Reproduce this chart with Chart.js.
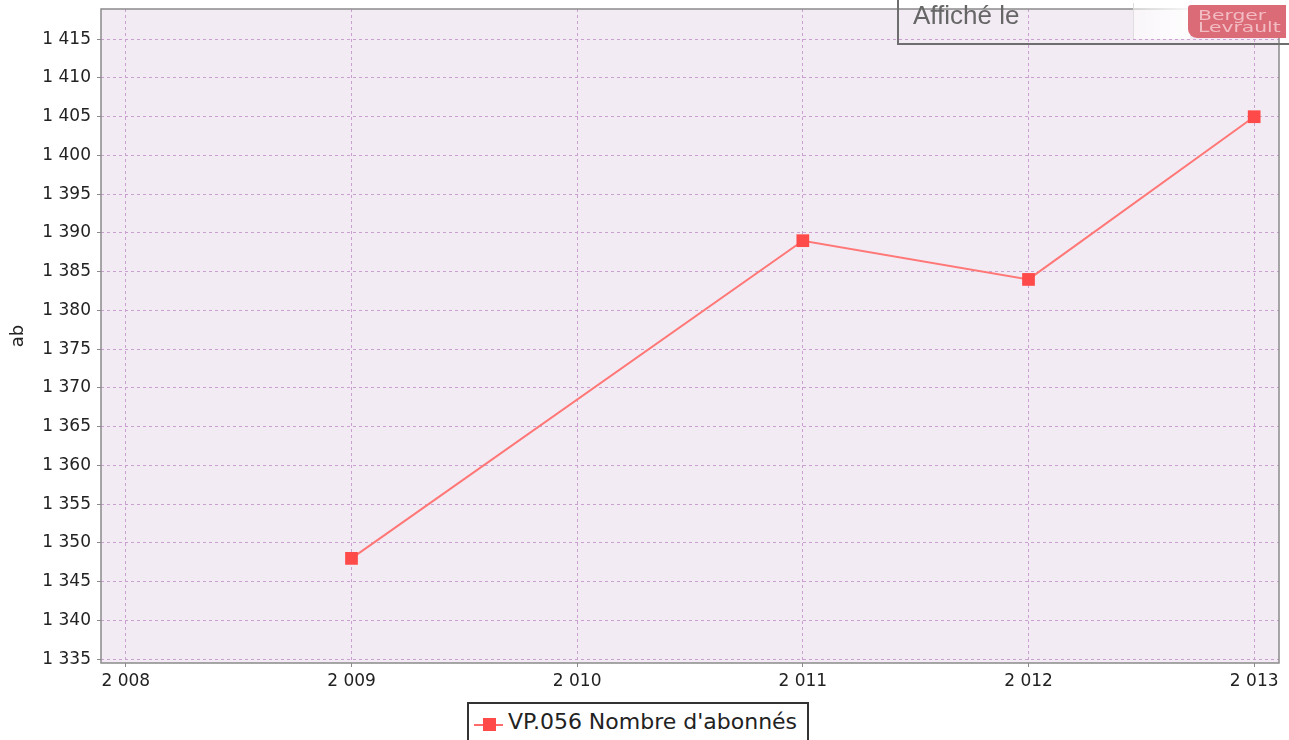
<!DOCTYPE html>
<html>
<head>
<meta charset="utf-8">
<script src="https://cdn.jsdelivr.net/npm/chart.js@4"></script>
<style>
  html, body { margin: 0; padding: 0; background: #fff; overflow: hidden; }
  #wrap { position: relative; width: 1289px; height: 740px; overflow: hidden; }
  canvas { position: absolute; left: 0; top: 0; }
  #stamp { position: absolute; left: 897px; top: -6px; width: 400px; height: 51px; border: 2px solid #6e6e6e; box-sizing: border-box; }
  #stamp span { position: absolute; left: 14px; top: 4px; font-family: "Liberation Sans", Arial, sans-serif; font-size: 26px; color: #666; }
  #fade { position: absolute; left: 1133px; top: 3px; width: 56px; height: 36px; background: linear-gradient(to right, rgba(255,255,255,0.55), rgba(255,255,255,0.9)); border-left: 1px solid rgba(200,200,200,0.6); }
  #logo { position: absolute; left: 1188px; top: 5px; width: 98px; height: 33px; background: #dc6b78; border-radius: 0 0 0 9px; border-top-left-radius: 3px; overflow: hidden; }
  #logo div { position: absolute; left: 10px; font-family: "DejaVu Sans", sans-serif; font-size: 14px; line-height: 14px; color: #f2bcc3; transform-origin: 0 0; transform: scaleX(1.45); white-space: nowrap; }
  #legend { position: absolute; left: 467px; top: 702px; width: 342px; height: 50px; border: 2px solid #333; box-sizing: border-box; background: #fff; }
  #legend .ln { position: absolute; left: 5px; top: 20px; width: 29px; height: 2px; background: #ff6a6a; }
  #legend .sq { position: absolute; left: 14px; top: 14px; width: 13px; height: 13px; background: #ff4a4a; }
  #legend .tx { position: absolute; left: 39px; top: 5px; font-family: "DejaVu Sans", sans-serif; font-size: 22px; color: #222; white-space: nowrap; }
</style>
</head>
<body>
<div id="wrap">
  <canvas id="c" width="1289" height="740"></canvas>
  <div id="stamp"><span>Affiché le</span></div>
  <div id="fade"></div>
  <div id="logo"><div style="top:3px">Berger</div><div style="top:15px">Levrault</div></div>
  <div id="legend"><div class="ln"></div><div class="sq"></div><div class="tx">VP.056 Nombre d'abonnés</div></div>
</div>
<script>
const seriesName = "VP.056 Nombre d'abonnés";
const years = [2009, 2011, 2012, 2013];
const abonnes = [1348, 1389, 1384, 1405];
const xTickValues = [2008, 2009, 2010, 2011, 2012, 2013];
const yTickValues = [1335, 1340, 1345, 1350, 1355, 1360, 1365, 1370, 1375, 1380, 1385, 1390, 1395, 1400, 1405, 1410, 1415];
const yAxisTitle = "ab";

function fmt(v) { return String(Math.round(v)).replace(/\B(?=(\d{3})+(?!\d))/g, ' '); }

const plotBg = {
  id: 'plotBg',
  beforeDraw(chart) {
    const { ctx, chartArea: a } = chart;
    ctx.save();
    ctx.fillStyle = '#f3ebf3';
    ctx.fillRect(a.left, a.top, a.right - a.left, a.bottom - a.top);
    ctx.restore();
  },
  afterDraw(chart) {
    const { ctx, chartArea: a } = chart;
    ctx.save();
    ctx.strokeStyle = '#8a8a8a';
    ctx.lineWidth = 1.5;
    ctx.strokeRect(a.left, a.top, a.right - a.left, a.bottom - a.top);
    ctx.restore();
  }
};

const tickFont = { family: '"DejaVu Sans", sans-serif', size: 17 };
const gridCommon = {
  color: '#c9a0cf',
  lineWidth: 1,
  tickLength: 4,
  tickColor: '#8a8a8a',
  tickBorderDash: [],
  drawTicks: true
};
const borderCommon = { display: false, dash: [3, 3] };

new Chart(document.getElementById('c'), {
  type: 'line',
  data: {
    datasets: [{
      label: seriesName,
      data: years.map((y, i) => ({ x: y, y: abonnes[i] })),
      borderColor: '#ff7777',
      borderWidth: 2,
      tension: 0,
      pointStyle: 'rect',
      pointRadius: 9,
      pointHoverRadius: 9,
      pointBackgroundColor: '#ff4a4a',
      pointBorderWidth: 0,
      fill: false
    }]
  },
  options: {
    responsive: false,
    devicePixelRatio: 1,
    animation: false,
    layout: { padding: { top: 9, right: 10, bottom: 39, left: 0 } },
    plugins: { legend: { display: false }, tooltip: { enabled: false } },
    scales: {
      x: {
        type: 'linear',
        min: 2007.89,
        max: 2013.11,
        afterBuildTicks(s) { s.ticks = xTickValues.map(v => ({ value: v })); },
        afterFit(s) { s.height = 38; s.paddingLeft = 0; s.paddingRight = 0; },
        grid: gridCommon,
        border: borderCommon,
        ticks: { font: tickFont, color: '#222', padding: 4, maxRotation: 0, autoSkip: false, callback: v => fmt(v) }
      },
      y: {
        type: 'linear',
        min: 1334.5,
        max: 1418.9,
        afterBuildTicks(s) { s.ticks = yTickValues.map(v => ({ value: v })); },
        afterFit(s) { s.width = 101; s.paddingTop = 0; s.paddingBottom = 0; },
        grid: gridCommon,
        border: borderCommon,
        title: { display: true, text: yAxisTitle, font: { family: '"DejaVu Sans", sans-serif', size: 18 }, color: '#222', padding: { top: 8, bottom: 0 } },
        ticks: { font: tickFont, color: '#222', padding: 6, autoSkip: false, callback: v => fmt(v) }
      }
    }
  },
  plugins: [plotBg]
});
</script>
</body>
</html>
